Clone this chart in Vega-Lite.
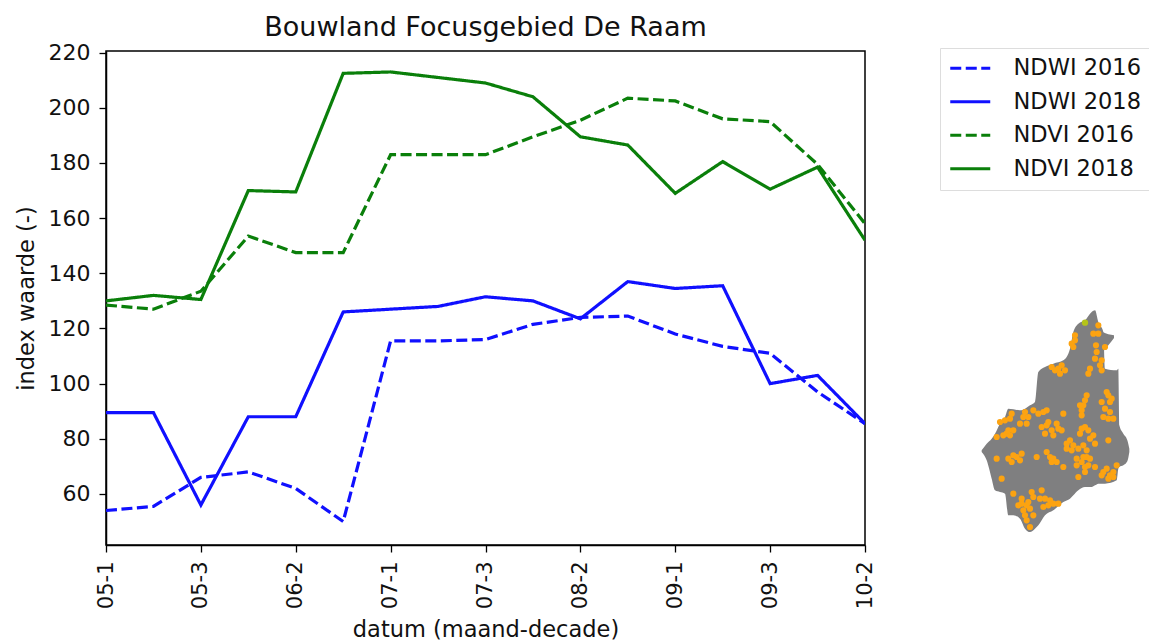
{
"$schema":"https://vega.github.io/schema/vega-lite/v6.json",
"background":"white",
"padding":{"left":14,"top":12,"right":0,"bottom":0},
"bounds":"flush",
"spacing":105,
"config":{"font":"DejaVu Sans"},
"datasets":{
"reeks":[
{"datum":"05-1","s":"NDWI 2016","v":54},{"datum":"05-2","s":"NDWI 2016","v":55.5},{"datum":"05-3","s":"NDWI 2016","v":66},{"datum":"06-1","s":"NDWI 2016","v":68},{"datum":"06-2","s":"NDWI 2016","v":62},{"datum":"06-3","s":"NDWI 2016","v":50},{"datum":"07-1","s":"NDWI 2016","v":115.5},{"datum":"07-2","s":"NDWI 2016","v":115.5},{"datum":"07-3","s":"NDWI 2016","v":116},{"datum":"08-1","s":"NDWI 2016","v":121.5},{"datum":"08-2","s":"NDWI 2016","v":124},{"datum":"08-3","s":"NDWI 2016","v":124.5},{"datum":"09-1","s":"NDWI 2016","v":118},{"datum":"09-2","s":"NDWI 2016","v":113.5},{"datum":"09-3","s":"NDWI 2016","v":111},{"datum":"10-1","s":"NDWI 2016","v":97},{"datum":"10-2","s":"NDWI 2016","v":85.5},
{"datum":"05-1","s":"NDWI 2018","v":89.5},{"datum":"05-2","s":"NDWI 2018","v":89.5},{"datum":"05-3","s":"NDWI 2018","v":56},{"datum":"06-1","s":"NDWI 2018","v":88},{"datum":"06-2","s":"NDWI 2018","v":88},{"datum":"06-3","s":"NDWI 2018","v":126},{"datum":"07-1","s":"NDWI 2018","v":127},{"datum":"07-2","s":"NDWI 2018","v":128},{"datum":"07-3","s":"NDWI 2018","v":131.5},{"datum":"08-1","s":"NDWI 2018","v":130},{"datum":"08-2","s":"NDWI 2018","v":123.5},{"datum":"08-3","s":"NDWI 2018","v":137},{"datum":"09-1","s":"NDWI 2018","v":134.5},{"datum":"09-2","s":"NDWI 2018","v":135.5},{"datum":"09-3","s":"NDWI 2018","v":100},{"datum":"10-1","s":"NDWI 2018","v":103},{"datum":"10-2","s":"NDWI 2018","v":85.5},
{"datum":"05-1","s":"NDVI 2016","v":128.5},{"datum":"05-2","s":"NDVI 2016","v":127},{"datum":"05-3","s":"NDVI 2016","v":133.5},{"datum":"06-1","s":"NDVI 2016","v":153.5},{"datum":"06-2","s":"NDVI 2016","v":147.5},{"datum":"06-3","s":"NDVI 2016","v":147.5},{"datum":"07-1","s":"NDVI 2016","v":183},{"datum":"07-2","s":"NDVI 2016","v":183},{"datum":"07-3","s":"NDVI 2016","v":183},{"datum":"08-1","s":"NDVI 2016","v":189.5},{"datum":"08-2","s":"NDVI 2016","v":195.5},{"datum":"08-3","s":"NDVI 2016","v":203.5},{"datum":"09-1","s":"NDVI 2016","v":202.5},{"datum":"09-2","s":"NDVI 2016","v":196},{"datum":"09-3","s":"NDVI 2016","v":195},{"datum":"10-1","s":"NDVI 2016","v":179.5},{"datum":"10-2","s":"NDVI 2016","v":158},
{"datum":"05-1","s":"NDVI 2018","v":130},{"datum":"05-2","s":"NDVI 2018","v":132},{"datum":"05-3","s":"NDVI 2018","v":130.5},{"datum":"06-1","s":"NDVI 2018","v":170},{"datum":"06-2","s":"NDVI 2018","v":169.5},{"datum":"06-3","s":"NDVI 2018","v":212.5},{"datum":"07-1","s":"NDVI 2018","v":213},{"datum":"07-2","s":"NDVI 2018","v":211},{"datum":"07-3","s":"NDVI 2018","v":209},{"datum":"08-1","s":"NDVI 2018","v":204},{"datum":"08-2","s":"NDVI 2018","v":189.5},{"datum":"08-3","s":"NDVI 2018","v":186.5},{"datum":"09-1","s":"NDVI 2018","v":169},{"datum":"09-2","s":"NDVI 2018","v":180.5},{"datum":"09-3","s":"NDVI 2018","v":170.5},{"datum":"10-1","s":"NDVI 2018","v":178.5},{"datum":"10-2","s":"NDVI 2018","v":152}
],
"gebied":[
{"part":"a","x":35,"top":445,"bottom":450},{"part":"a","x":50,"top":425,"bottom":475},{"part":"a","x":65,"top":410,"bottom":530},{"part":"a","x":75,"top":395,"bottom":565},{"part":"a","x":90,"top":365,"bottom":570},{"part":"a","x":105,"top":345,"bottom":575},{"part":"a","x":115,"top":320,"bottom":640},{"part":"a","x":130,"top":322,"bottom":640},{"part":"a","x":150,"top":325,"bottom":650},{"part":"a","x":165,"top":320,"bottom":680},{"part":"a","x":180,"top":310,"bottom":690},{"part":"a","x":195,"top":300,"bottom":680},{"part":"a","x":205,"top":210,"bottom":670},{"part":"a","x":225,"top":195,"bottom":640},{"part":"a","x":250,"top":185,"bottom":625},{"part":"a","x":280,"top":175,"bottom":600},{"part":"a","x":300,"top":140,"bottom":590},{"part":"a","x":310,"top":90,"bottom":580},{"part":"a","x":325,"top":65,"bottom":565},{"part":"a","x":345,"top":55,"bottom":555},{"part":"a","x":365,"top":30,"bottom":555},{"part":"a","x":375,"top":25,"bottom":550},{"part":"a","x":385,"top":60,"bottom":545},{"part":"a","x":400,"top":90,"bottom":545},{"part":"a","x":405,"top":200,"bottom":545},{"part":"a","x":440,"top":205,"bottom":535},{"part":"a","x":445,"top":200,"bottom":500},{"part":"a","x":448,"top":370,"bottom":495},{"part":"a","x":460,"top":395,"bottom":490},{"part":"a","x":472,"top":415,"bottom":478},{"part":"a","x":478,"top":440,"bottom":450},
{"part":"b","x":398,"top":90,"bottom":150},{"part":"b","x":415,"top":97,"bottom":130},{"part":"b","x":432,"top":100,"bottom":108}
],
"vlekken":[
{"x":385,"y":70},{"x":315,"y":115},{"x":305,"y":125},{"x":370,"y":95},{"x":385,"y":95},{"x":378,"y":130},{"x":405,"y":135},{"x":375,"y":170},{"x":390,"y":190},{"x":395,"y":205},{"x":355,"y":215},{"x":265,"y":200},{"x":285,"y":205},{"x":245,"y":195},{"x":340,"y":310},{"x":335,"y":325},{"x":345,"y":295},{"x":415,"y":280},{"x":420,"y":300},{"x":405,"y":320},{"x":415,"y":350},{"x":430,"y":350},{"x":190,"y":325},{"x":230,"y":325},{"x":280,"y":335},{"x":160,"y":345},{"x":175,"y":345},{"x":170,"y":365},{"x":125,"y":335},{"x":105,"y":355},{"x":130,"y":385},{"x":110,"y":395},{"x":80,"y":405},{"x":100,"y":400},{"x":230,"y":370},{"x":265,"y":380},{"x":250,"y":400},{"x":215,"y":375},{"x":335,"y":380},{"x":355,"y":385},{"x":415,"y":415},{"x":375,"y":425},{"x":290,"y":425},{"x":310,"y":430},{"x":340,"y":430},{"x":305,"y":445},{"x":130,"y":460},{"x":155,"y":455},{"x":125,"y":480},{"x":150,"y":475},{"x":80,"y":470},{"x":200,"y":465},{"x":240,"y":465},{"x":245,"y":480},{"x":320,"y":470},{"x":350,"y":465},{"x":335,"y":480},{"x":355,"y":490},{"x":345,"y":510},{"x":325,"y":525},{"x":280,"y":495},{"x":400,"y":510},{"x":420,"y":520},{"x":430,"y":510},{"x":440,"y":490},{"x":375,"y":495},{"x":185,"y":570},{"x":155,"y":605},{"x":170,"y":610},{"x":180,"y":620},{"x":165,"y":640},{"x":180,"y":675},{"x":225,"y":590},{"x":235,"y":610},{"x":265,"y":605},{"x":215,"y":565},{"x":130,"y":575},{"x":95,"y":530},
{"x":335,"y":340},{"x":350,"y":280},{"x":330,"y":310},{"x":410,"y":270},{"x":425,"y":290},{"x":395,"y":300},{"x":420,"y":330},{"x":400,"y":345},{"x":260,"y":365},{"x":275,"y":385},{"x":245,"y":385},{"x":225,"y":395},{"x":235,"y":360},{"x":330,"y":395},{"x":345,"y":375},{"x":370,"y":400},{"x":360,"y":410},{"x":290,"y":440},{"x":300,"y":415},{"x":325,"y":440},{"x":350,"y":445},{"x":320,"y":490},{"x":340,"y":465},{"x":360,"y":470},{"x":345,"y":495},{"x":410,"y":500},{"x":430,"y":525},{"x":415,"y":530},{"x":395,"y":520},{"x":155,"y":590},{"x":145,"y":610},{"x":160,"y":625},{"x":175,"y":600},{"x":190,"y":585},{"x":170,"y":655},{"x":210,"y":590},{"x":240,"y":595},{"x":220,"y":615},{"x":250,"y":605},{"x":190,"y":640},{"x":115,"y":470},{"x":140,"y":465},{"x":90,"y":360},{"x":120,"y":350},{"x":150,"y":365},{"x":165,"y":330},{"x":205,"y":335},{"x":120,"y":400},{"x":115,"y":385},{"x":250,"y":470},{"x":230,"y":450},{"x":260,"y":480},{"x":380,"y":150},{"x":395,"y":175},{"x":360,"y":200},{"x":315,"y":100},{"x":310,"y":135},{"x":255,"y":205},{"x":275,"y":190},{"x":270,"y":215},{"x":220,"y":330}
],
"geel":[{"x":345,"y":62}]
},
"hconcat":[
{
"width":759,"height":494,
"title":{"text":"Bouwland Focusgebied De Raam","fontSize":27,"fontWeight":"normal","color":"#111","anchor":"middle","offset":0},
"view":{"stroke":"#000","strokeWidth":1.5},
"data":{"name":"reeks"},
"mark":{"type":"line","strokeWidth":3.2,"clip":true},
"encoding":{
"x":{"field":"datum","type":"ordinal","scale":{"type":"point","padding":0},
"axis":{"title":"datum (maand-decade)","titleFontSize":22.5,"titleFontWeight":"normal","titleColor":"#111","titlePadding":10,"labelAngle":-90,"labelFontSize":21,"labelColor":"#111","labelPadding":9,"tickSize":7,"tickColor":"#000","tickWidth":1.3,"domainColor":"#000","domainWidth":1.5,"grid":false,
"values":["05-1","05-3","06-2","07-1","07-3","08-2","09-1","09-3","10-2"]}},
"y":{"field":"v","type":"quantitative","scale":{"domain":[41.5,220.6],"nice":false,"zero":false},
"axis":{"title":"index waarde (-)","titleFontSize":22.5,"titleFontWeight":"normal","titleColor":"#111","titlePadding":10,"labelFontSize":22,"labelColor":"#111","labelPadding":9,"tickSize":7,"tickColor":"#000","tickWidth":1.3,"domainColor":"#000","domainWidth":1.5,"grid":false,
"values":[60,80,100,120,140,160,180,200,220]}},
"color":{"field":"s","type":"nominal","sort":["NDWI 2016","NDWI 2018","NDVI 2016","NDVI 2018"],
"scale":{"domain":["NDWI 2016","NDWI 2018","NDVI 2016","NDVI 2018"],"range":["#1010ff","#1010ff","#0a7f0a","#0a7f0a"]},
"legend":{"title":null,"orient":"none","legendX":834,"legendY":-3,"symbolType":"M-2,0H6","symbolSize":100,"symbolStrokeWidth":3.2,"labelFontSize":22.5,"labelColor":"#111","labelOffset":42,"rowPadding":10.5,"padding":9,"fillColor":"white","strokeColor":"#ddd","offset":0}},
"strokeDash":{"field":"s","type":"nominal","sort":["NDWI 2016","NDWI 2018","NDVI 2016","NDVI 2018"],
"scale":{"domain":["NDWI 2016","NDWI 2018","NDVI 2016","NDVI 2018"],"range":[[11,4.5],[1,0],[11,4.5],[1,0]]},
"legend":{"title":null,"orient":"none","legendX":834,"legendY":-3,"symbolType":"M-2,0H6","symbolSize":100,"symbolStrokeWidth":3.2,"labelFontSize":22.5,"labelColor":"#111","labelOffset":42,"rowPadding":10.5,"padding":9,"fillColor":"white","strokeColor":"#ddd","offset":0}}
}
},
{
"width":170,"height":494,
"view":{"stroke":null},
"layer":[
{"data":{"name":"gebied"},"mark":{"type":"area","color":"#7f7f80","interpolate":"monotone"},
"encoding":{
"x":{"field":"x","type":"quantitative","scale":{"domain":[0,510],"nice":false,"zero":false},"axis":null},
"y":{"field":"top","type":"quantitative","scale":{"domain":[729,-753],"nice":false,"zero":false},"axis":null},
"y2":{"field":"bottom"},
"detail":{"field":"part"}}},
{"data":{"name":"vlekken"},"mark":{"type":"circle","color":"#fca311","opacity":1,"size":38},
"encoding":{"x":{"field":"x","type":"quantitative"},"y":{"field":"y","type":"quantitative"}}},
{"data":{"name":"geel"},"mark":{"type":"circle","color":"#b5c41a","opacity":1,"size":40},
"encoding":{"x":{"field":"x","type":"quantitative"},"y":{"field":"y","type":"quantitative"}}}
]
}
]
}
